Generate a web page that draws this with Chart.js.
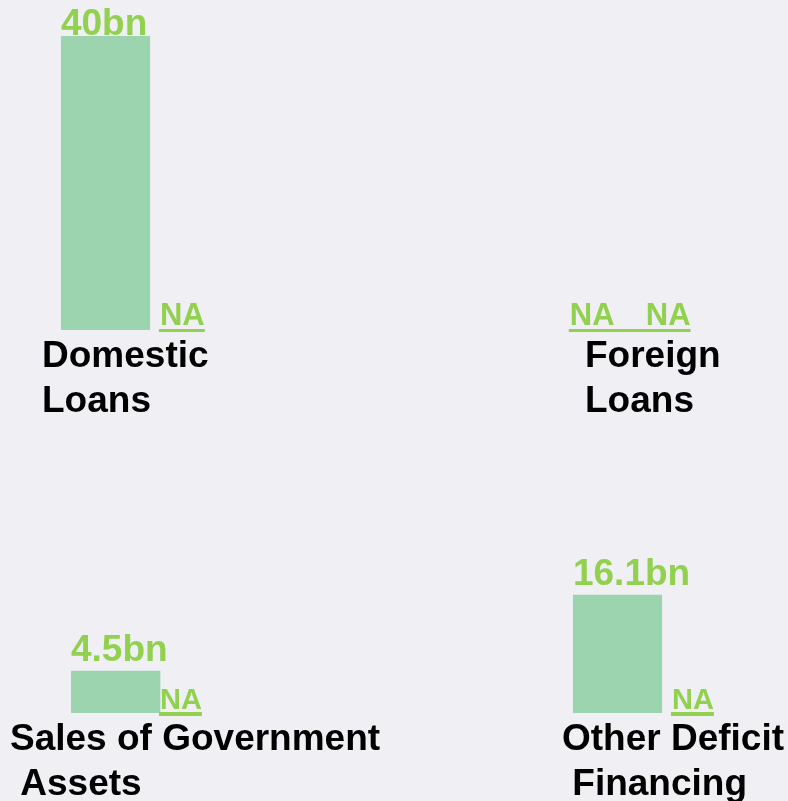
<!DOCTYPE html>
<html>
<head>
<meta charset="utf-8">
<title>Deficit Financing</title>
<script src="https://cdn.jsdelivr.net/npm/chart.js@4.4.1/dist/chart.umd.min.js"></script>
<style>
    html, body {
        margin: 0;
        padding: 0;
        background: #efeff4;
    }
    #board {
        position: relative;
        width: 788px;
        height: 801px;
        overflow: hidden;
    }
    #board canvas {
        position: absolute;
    }
</style>
</head>
<body>
<div id="board"></div>

<script>
// --- DATA (billions) ---
const categories = ['Domestic Loans', 'Foreign Loans', 'Sales of Government Assets', 'Other Deficit Financing'];
const categoryLines = [
    ['Domestic', 'Loans'],
    ['Foreign', 'Loans'],
    ['Sales of Government', ' Assets'],
    ['Other Deficit', ' Financing']
];
const firstValues = [40, null, 4.5, 16.1];      // null = not available
const secondValues = [null, null, null, null];
const valueSuffix = 'bn';
const naText = 'NA';
const yMax = 40;

// --- LOOK ---
const BAR_COLOR = '#9bd4ae';
const LABEL_GREEN = '#92d050';
const FONT = '"Liberation Sans", Arial, Helvetica, sans-serif';

// where each small panel sits on the board
const panels = [
    { left: 0,   top: 0,   padLeft: 56,  chunk: 99, barPct: 0.9, labelShift: -113, naSize: 31, naLift: 5.5, lineW: 3 },
    { left: 394, top: 0,   padLeft: 172, chunk: 76, barPct: 0.9, labelShift: -57,  naSize: 31, naLift: 5.5, lineW: 3 },
    { left: 0,   top: 383, padLeft: 71,  chunk: 89, barPct: 1,   labelShift: -150, naSize: 29, naLift: 4,   lineW: 4 },
    { left: 394, top: 383, padLeft: 174, chunk: 99, barPct: 0.9, labelShift: -105, naSize: 29, naLift: 4,   lineW: 4 }
];
const PANEL_W = 394;
const PANEL_H = 428;

// value above the bar, or an underlined "NA" on the baseline
const valueLabels = {
    id: 'valueLabels',
    afterDatasetsDraw(chart, args, opts) {
        const ctx = chart.ctx;
        const bottom = chart.chartArea.bottom;
        const runs = [];
        let run = null;

        ctx.save();
        ctx.fillStyle = LABEL_GREEN;
        ctx.textBaseline = 'alphabetic';
        ctx.textAlign = 'left';

        chart.data.datasets.forEach((ds, di) => {
            const bar = chart.getDatasetMeta(di).data[0];
            const v = ds.data[0];
            const x = bar.x - bar.width / 2;
            if (v === null || v === undefined) {
                ctx.font = `bold ${opts.naSize}px ${FONT}`;
                ctx.fillText(naText, x, bottom - opts.naLift);
                const w = ctx.measureText(naText).width;
                if (run) run.end = x + w;
                else { run = { start: x, end: x + w }; runs.push(run); }
            } else {
                run = null;
                ctx.font = `bold 37px ${FONT}`;
                ctx.fillText(v + valueSuffix, x, Math.max(bar.y - 10, 35));
            }
        });

        // neighbouring NAs share one underline
        runs.forEach(r => ctx.fillRect(r.start - 1, bottom - 1, r.end - r.start + 1, opts.lineW));
        ctx.restore();
    }
};

function drawPanel(i) {
    const p = panels[i];
    const canvas = document.createElement('canvas');
    canvas.width = PANEL_W;
    canvas.height = PANEL_H;
    canvas.style.left = p.left + 'px';
    canvas.style.top = p.top + 'px';
    document.getElementById('board').appendChild(canvas);

    new Chart(canvas.getContext('2d'), {
        type: 'bar',
        data: {
            labels: [categoryLines[i]],
            datasets: [
                { label: categories[i], data: [firstValues[i]], backgroundColor: BAR_COLOR, minBarLength: 42 },
                { label: categories[i], data: [secondValues[i]], backgroundColor: BAR_COLOR, minBarLength: 42 }
            ]
        },
        options: {
            responsive: false,
            animation: false,
            categoryPercentage: 1,
            barPercentage: p.barPct,
            layout: {
                padding: {
                    left: p.padLeft,
                    right: PANEL_W - p.padLeft - 2 * p.chunk,
                    top: 36,
                    bottom: 0
                }
            },
            plugins: {
                legend: { display: false },
                tooltip: { enabled: false },
                valueLabels: { naSize: p.naSize, naLift: p.naLift, lineW: p.lineW }
            },
            scales: {
                x: {
                    grid: { display: false, drawTicks: false },
                    border: { display: false },
                    ticks: {
                        color: '#000',
                        align: 'start',
                        labelOffset: p.labelShift,
                        padding: 4,
                        maxRotation: 0,
                        autoSkip: false,
                        font: { family: FONT, size: 37, weight: 'bold', lineHeight: 1.216 }
                    },
                    // labels run wider than the bars; keep the plot area where it is
                    afterFit(scale) {
                        scale.paddingLeft = 0;
                        scale.paddingRight = 0;
                    }
                },
                y: {
                    display: false,
                    min: 0,
                    max: yMax
                }
            }
        },
        plugins: [valueLabels]
    });
}

document.addEventListener('DOMContentLoaded', () => {
    panels.forEach((p, i) => drawPanel(i));
});
</script>
</body>
</html>
